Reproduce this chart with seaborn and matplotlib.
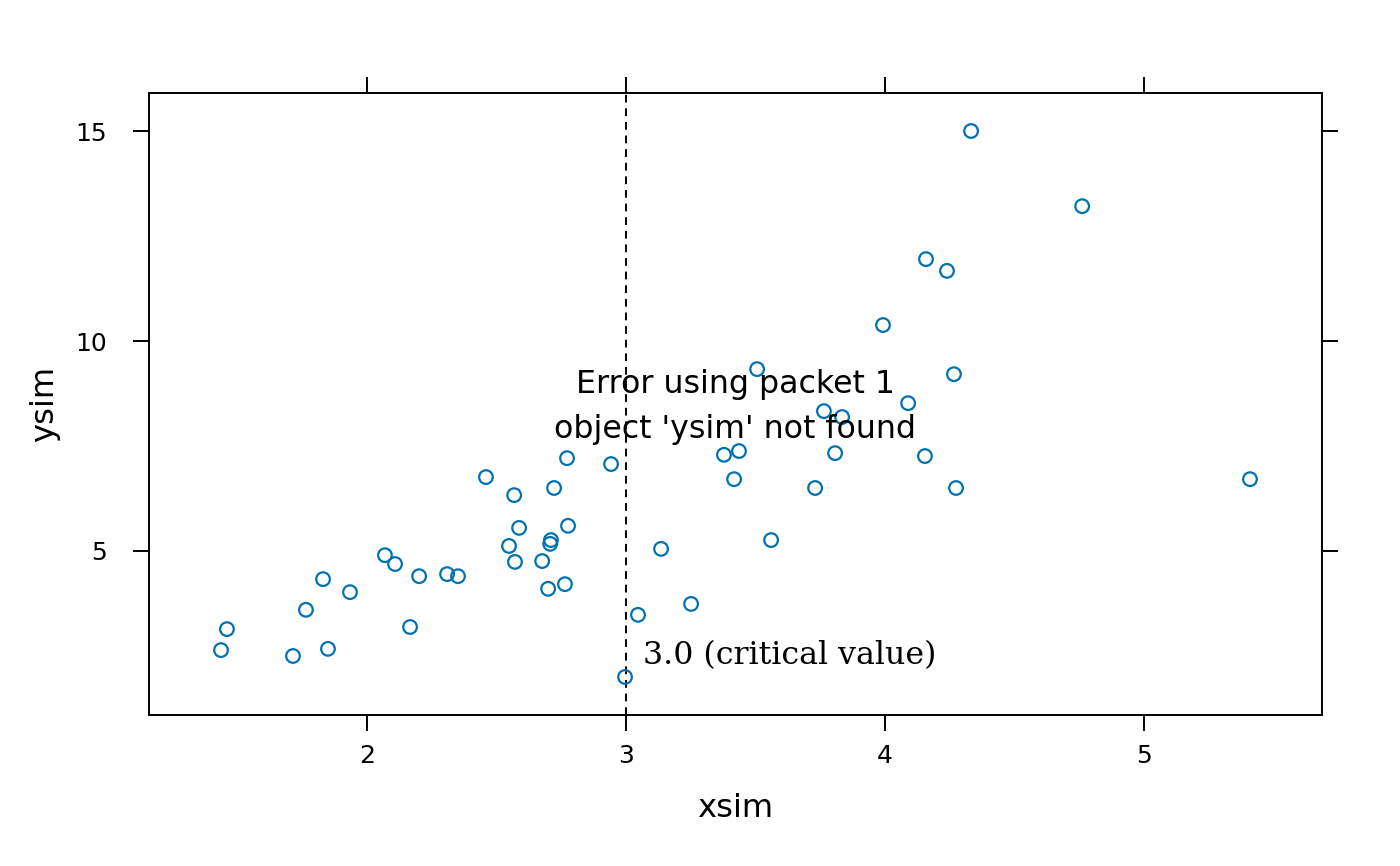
import matplotlib
matplotlib.use("Agg")
import matplotlib.pyplot as plt
import seaborn as sns
import pandas as pd

xsim = [1.436, 1.459, 1.714, 1.764, 1.830, 1.849, 1.934, 2.069, 2.108, 2.166,
        2.201, 2.309, 2.351, 2.459, 2.548, 2.568, 2.571, 2.587, 2.676, 2.699,
        2.707, 2.710, 2.722, 2.764, 2.772, 2.776, 2.942, 2.996, 3.046, 3.135,
        3.251, 3.378, 3.417, 3.436, 3.506, 3.560, 3.730, 3.764, 3.807, 3.834,
        3.992, 4.089, 4.154, 4.158, 4.239, 4.266, 4.274, 4.332, 4.761, 5.409]
ysim = [2.64, 3.14, 2.50, 3.60, 4.33, 2.67, 4.02, 4.90, 4.69, 3.19,
        4.40, 4.45, 4.40, 6.76, 5.12, 6.33, 4.74, 5.55, 4.76, 4.10,
        5.17, 5.26, 6.50, 4.21, 7.21, 5.60, 7.07, 2.00, 3.48, 5.05,
        3.74, 7.29, 6.71, 7.38, 9.33, 5.26, 6.50, 8.33, 7.33, 8.19,
        10.38, 8.52, 7.26, 11.95, 11.67, 9.21, 6.50, 15.00, 13.21, 6.71]
critical_value = 3.0
critical_label = "3.0 (critical value)"
error_lines = ["Error using packet 1", "object 'ysim' not found"]
x_ticks = [2, 3, 4, 5]
y_ticks = [5, 10, 15]

df = pd.DataFrame({"xsim": xsim, "ysim": ysim})

sns.set_style("white")
plt.rcParams["font.family"] = ["DejaVu Sans"]

fig = plt.figure(figsize=(7, 4.33), dpi=200)
ax = fig.add_axes([149 / 1400, 1 - 715 / 866, (1322 - 149) / 1400, (715 - 93) / 866])

sns.scatterplot(data=df, x="xsim", y="ysim", ax=ax, marker="o",
                facecolor="none", edgecolor="#0072B2", linewidth=0.8, s=24,
                zorder=3)

ax.axvline(critical_value, color="black", lw=0.7, dashes=(4, 3), zorder=2)

ax.set_xlim(1.158, 5.687)
ax.set_ylim(1.095, 15.905)
ax.set_xticks(x_ticks)
ax.set_yticks(y_ticks)
ax.set_xticklabels([str(t) for t in x_ticks])
ax.set_yticklabels([str(t) for t in y_ticks])

for sp in ax.spines.values():
    sp.set_color("black")
    sp.set_linewidth(0.7)

ax.tick_params(axis="both", which="both", direction="out", length=5.6,
               width=0.7, color="black", labelsize=9.0, labelcolor="black",
               top=True, right=True, bottom=True, left=True,
               labeltop=False, labelright=False)
ax.tick_params(axis="x", pad=5.0)
ax.tick_params(axis="y", pad=9.5)

ax.set_xlabel("xsim", fontsize=11.6, color="black")
ax.set_ylabel("ysim", fontsize=11.6, color="black")
ax.xaxis.set_label_coords(0.5, -0.125)
ax.yaxis.set_label_coords(-0.076, 0.5)

ax.text(0.5, 0.5177, error_lines[0], transform=ax.transAxes, ha="center",
        va="baseline", fontsize=11.4, color="black")
ax.text(0.5, 0.4453, error_lines[1], transform=ax.transAxes, ha="center",
        va="baseline", fontsize=11.4, color="black")

ax.text(critical_value + 0.066, 2.31, critical_label, ha="left", va="baseline",
        fontsize=11.4, family="DejaVu Serif", color="black")

fig.savefig("out.png", dpi=200)
